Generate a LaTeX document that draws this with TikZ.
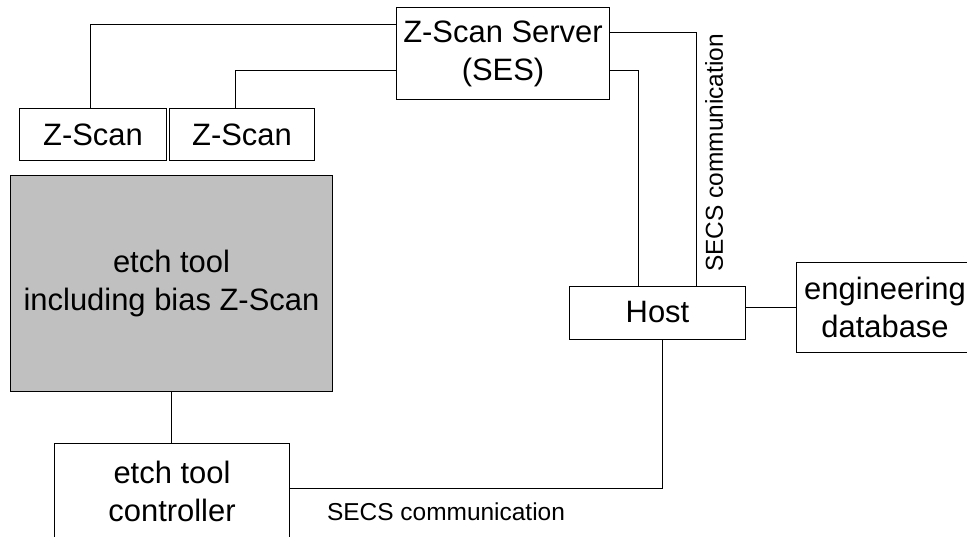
\documentclass[tikz,border=0pt]{standalone}
\usepackage{fontspec}
\setmainfont{Liberation Sans}
\usepackage{xcolor}
\usetikzlibrary{positioning}

\definecolor{toolgray}{HTML}{C0C0C0}

\begin{document}
\begin{tikzpicture}[
    x=0.025cm, y=-0.025cm,
    box/.style={rectangle, draw, line width=0.7pt, fill=white, text centered, align=center, font=\fontsize{22}{27}\selectfont, inner sep=0pt},
    link/.style={draw, line width=0.7pt},
    label/.style={font=\fontsize{17.4}{20}\selectfont, inner sep=0pt}
]
\useasboundingbox (0,0) rectangle (967,537);

\node[box, minimum width=5.3cm, minimum height=2.275cm] (server) at (503,53.5) {Z-Scan Server\\(SES)};
\node[box, minimum width=3.65cm, minimum height=1.275cm] (zscana) at (93,134.5) {Z-Scan};
\node[box, minimum width=3.6cm, minimum height=1.275cm] (zscanb) at (242,134.5) {Z-Scan};
\node[box, fill=toolgray, minimum width=8.025cm, minimum height=5.375cm] (etch) at (171.5,283.5) {etch tool\\including bias Z-Scan};
\node[box, minimum width=4.375cm, minimum height=1.325cm] (host) at (657.5,312.5) {Host};
\node[box, minimum width=4.4cm, minimum height=2.225cm] (db) at (885,307.5) {engineering\\database};
\node[box, minimum width=5.85cm, minimum height=2.35cm] (ctrl) at (172,491) {etch tool\\controller};

\node[label, rotate=90] (secsv) at (714,153) {SECS communication};
\node[label] (secsh) at (446,512) {SECS communication};

\draw[link] ([xshift=-0.075cm]zscana.north) |- ([yshift=0.7125cm]server.west);
\draw[link] ([xshift=-0.175cm]zscanb.north) |- ([yshift=-0.4125cm]server.west);
\draw[link] ([yshift=0.5125cm]server.east) -| ([xshift=0.9625cm]host.north);
\draw[link] ([yshift=-0.4125cm]server.east) -| ([xshift=-0.4875cm]host.north);
\draw[link] (db.west) -- (db.west -| host.east);
\draw[link] (etch.south) -- (etch.south |- ctrl.north);
\draw[link] ([yshift=0.075cm]ctrl.east) -| ([xshift=0.1125cm]host.south);

\end{tikzpicture}
\end{document}
